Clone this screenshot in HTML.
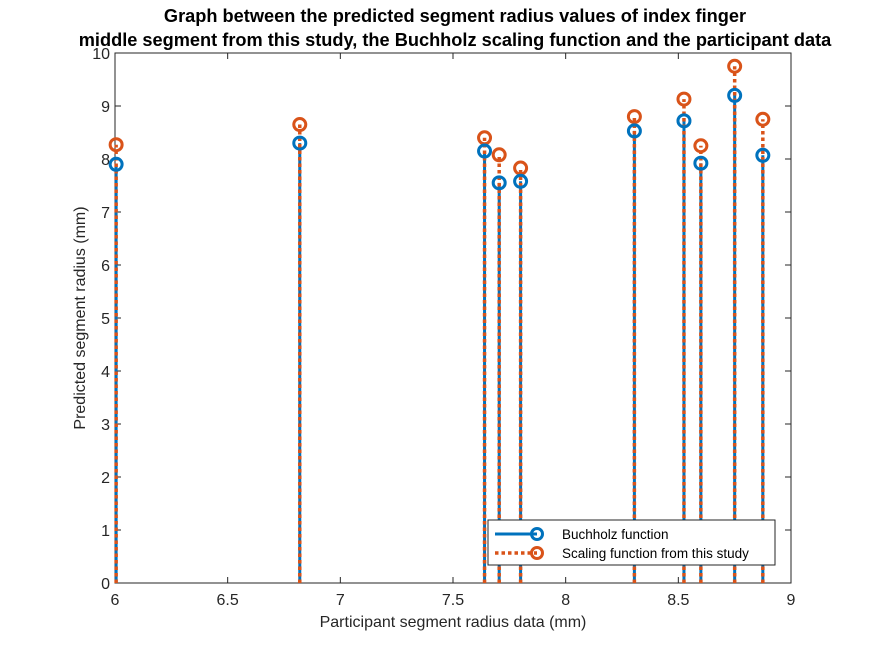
<!DOCTYPE html>
<html><head><meta charset="utf-8"><style>
body{margin:0;background:#fff;}
svg{display:block;font-family:"Liberation Sans",Arial,sans-serif;}
</style></head><body>
<svg id="chart" width="875" height="656" viewBox="0 0 875 656">
<rect width="875" height="656" fill="#fff"/>
<text x="455" y="22" text-anchor="middle" font-size="18.2" font-weight="bold" fill="#000">Graph between the predicted segment radius values of index finger</text>
<text x="455" y="46" text-anchor="middle" font-size="18.2" font-weight="bold" fill="#000">middle segment from this study, the Buchholz scaling function and the participant data</text>
<g id="plot"></g>
<text x="453" y="627" text-anchor="middle" font-size="16" fill="#262626">Participant segment radius data (mm)</text>
<text transform="translate(85,318) rotate(-90)" text-anchor="middle" font-size="16" fill="#262626">Predicted segment radius (mm)</text>
<g>
<rect x="488" y="520" width="287" height="45" fill="#fff" stroke="#262626" stroke-width="1"/>
<line x1="495" y1="534" x2="537" y2="534" stroke="#0072BD" stroke-width="3"/>
<circle cx="537" cy="534" r="5.5" fill="none" stroke="#0072BD" stroke-width="3"/>
<text x="562" y="539" font-size="13.5" fill="#000">Buchholz function</text>
<line x1="495" y1="553" x2="537" y2="553" stroke="#D95319" stroke-width="3.5" stroke-dasharray="3.5 3"/>
<circle cx="537" cy="553" r="5.5" fill="none" stroke="#D95319" stroke-width="3"/>
<text x="562" y="558" font-size="13.5" fill="#000">Scaling function from this study</text>
</g>
</svg>
<script>
const xValues = [6.005, 6.82, 7.64, 7.705, 7.8, 8.305, 8.525, 8.6, 8.75, 8.875];
const buchholz = [7.9, 8.3, 8.15, 7.55, 7.58, 8.53, 8.72, 7.92, 9.2, 8.07];
const scaling = [8.27, 8.65, 8.4, 8.08, 7.83, 8.8, 9.13, 8.25, 9.75, 8.75];
const xTicks = [6, 6.5, 7, 7.5, 8, 8.5, 9];
const yTicks = [0,1,2,3,4,5,6,7,8,9,10];

const L=115, R=791, T=53, B=583;
const sx = v => L + (v-6)/3*(R-L);
const sy = v => B - v/10*(B-T);
const NS='http://www.w3.org/2000/svg';
const g=document.getElementById('plot');
function mk(tag, attrs, parent){const e=document.createElementNS(NS,tag);for(const k in attrs)e.setAttribute(k,attrs[k]);(parent||g).appendChild(e);return e;}

const frame=mk('rect',{x:L,y:T,width:R-L,height:B-T,fill:'#fff',stroke:'#262626','stroke-width':1});



xTicks.forEach(t=>{
  const x=sx(t);
  mk('line',{x1:x,y1:B,x2:x,y2:B-6,stroke:'#262626'});
  mk('line',{x1:x,y1:T,x2:x,y2:T+6,stroke:'#262626'});
  const tx=mk('text',{x:x,y:B+22,'text-anchor':'middle','font-size':16,fill:'#262626'});
  tx.textContent=String(t);
  
  
});
yTicks.forEach(t=>{
  const y=sy(t);
  mk('line',{x1:L,y1:y,x2:L+6,y2:y,stroke:'#262626'});
  mk('line',{x1:R,y1:y,x2:R-6,y2:y,stroke:'#262626'});
  const tx=mk('text',{x:L-5,y:y+6,'text-anchor':'end','font-size':16,fill:'#262626'});
  tx.textContent=String(t);
  
  
});

xValues.forEach((xv,i)=>{
  const x=sx(xv);
  const bl=mk('line',{x1:x,y1:B,x2:x,y2:sy(buchholz[i]),stroke:'#0072BD','stroke-width':3});
  
  
  const ol=mk('line',{x1:x,y1:B,x2:x,y2:sy(scaling[i]),stroke:'#D95319','stroke-width':3.5,'stroke-dasharray':'3.5 3'});
  
  
});
xValues.forEach((xv,i)=>{
  const x=sx(xv);
  const oc=mk('circle',{cx:x,cy:sy(scaling[i]),r:6,fill:'none',stroke:'#D95319','stroke-width':3});
  
  
  const bc=mk('circle',{cx:x,cy:sy(buchholz[i]),r:6,fill:'none',stroke:'#0072BD','stroke-width':3});
  
  
});
</script>
</body></html>
